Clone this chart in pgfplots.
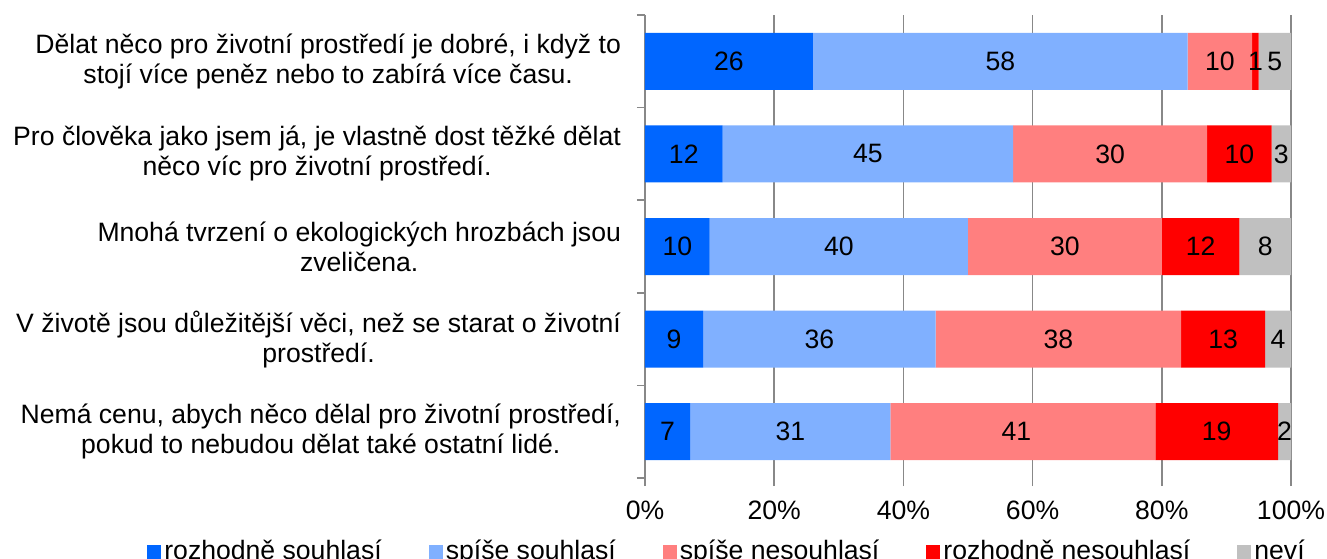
\documentclass[border=0pt]{standalone}
\usepackage{fontspec}
\setmainfont{Liberation Sans}
\usepackage{pgfplots}
\pgfplotsset{compat=1.18}
\definecolor{c1}{HTML}{0066FF}
\definecolor{c2}{HTML}{80B0FF}
\definecolor{c3}{HTML}{FF7F7F}
\definecolor{c4}{HTML}{FF0000}
\definecolor{c5}{HTML}{C0C0C0}
\definecolor{gridgray}{HTML}{888888}
\newcommand\f{\fontsize{13.3}{15}\selectfont}
\pgfplotsset{common/.style={
    scale only axis,
    width=323pt, height=231.5pt,
    xmin=0, xmax=100,
    ymin=-0.5, ymax=4.5,
    y dir=reverse}}
\begin{document}
\begin{tikzpicture}
\begin{axis}[
    common,
    xbar stacked,
    bar width=28.5pt,
    axis lines*=left,
    axis line style={gridgray, line width=0.75pt},
    x axis line style={draw=none},
    xmajorgrids,
    grid style={gridgray, line width=0.75pt},
    tick align=outside,
    major tick length=4pt,
    tick style={gridgray, line width=0.75pt},
    xtick={0,20,40,60,80,100},
    xticklabels={0\%,20\%,40\%,60\%,80\%,100\%},
    xticklabel style={font=\f, yshift=-4pt},
    ytick={-0.5,0.5,1.5,2.5,3.5,4.5},
    yticklabels={},
    extra y ticks={0,1,2,3,4},
    extra y tick labels={
      {Dělat něco pro životní prostředí je dobré, i když to\\stojí více peněz nebo to zabírá více času.},
      {Pro člověka jako jsem já, je vlastně dost těžké dělat\\něco víc pro životní prostředí.},
      {Mnohá tvrzení o ekologických hrozbách jsou\\zveličena.},
      {V životě jsou důležitější věci, než se starat o životní\\prostředí.},
      {Nemá cenu, abych něco dělal pro životní prostředí,\\pokud to nebudou dělat také ostatní lidé.}},
    extra y tick style={major tick length=0pt,
      yticklabel style={font=\f, align=center, xshift=-8.5pt}},
    legend columns=5,
    legend style={draw=none, fill=none, font=\f, at={(0,0)}, anchor=north west,
      xshift=-252pt, yshift=-27pt,
      nodes={inner xsep=1.5pt},
      /tikz/every even column/.append style={column sep=22pt}},
    legend image code/.code={\fill[#1] (0pt,-3.5pt) rectangle (7pt,3.5pt);},
]
\addplot[fill=c1, draw=none] coordinates {(26,0) (12,1) (10,2) (9,3) (7,4)};
\addplot[fill=c2, draw=none] coordinates {(58,0) (45,1) (40,2) (36,3) (31,4)};
\addplot[fill=c3, draw=none] coordinates {(10,0) (30,1) (30,2) (38,3) (41,4)};
\addplot[fill=c4, draw=none] coordinates {(1,0) (10,1) (12,2) (13,3) (19,4)};
\addplot[fill=c5, draw=none] coordinates {(5,0) (3,1) (8,2) (4,3) (2,4)};
\legend{rozhodně souhlasí, spíše souhlasí, spíše nesouhlasí, rozhodně nesouhlasí, neví}
\end{axis}
% segment labels, at the middle of each segment
\begin{axis}[common, hide axis]
\addplot[draw=none, mark=none, nodes near coords, point meta=explicit symbolic,
  nodes near coords align={center},
  every node near coord/.append style={font=\f, text=black, anchor=center}]
  table[meta=v] {
x y v
13 0 26
55 0 58
89 0 10
94.5 0 1
97.5 0 5
6 1 12
34.5 1 45
72 1 30
92 1 10
98.5 1 3
5 2 10
30 2 40
65 2 30
86 2 12
96 2 8
4.5 3 9
27 3 36
64 3 38
89.5 3 13
98 3 4
3.5 4 7
22.5 4 31
57.5 4 41
88.5 4 19
99 4 2
};
\end{axis}
\pgfresetboundingbox
\useasboundingbox (-322.5pt,-40pt) rectangle (341pt,239pt);
\end{tikzpicture}
\end{document}
